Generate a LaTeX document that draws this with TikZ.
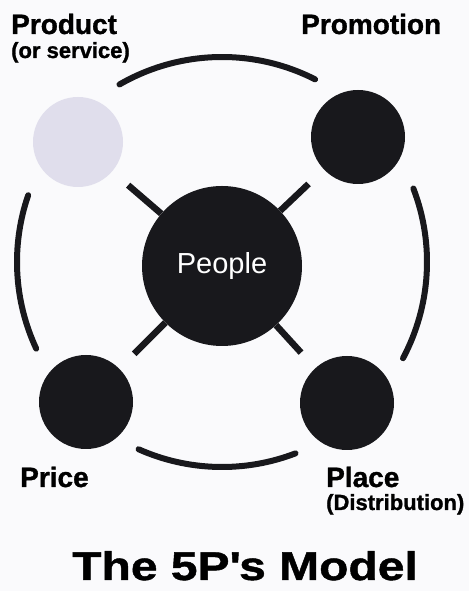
\documentclass[tikz,border=0pt]{standalone}
\usepackage{fontspec}
\setmainfont{Liberation Sans}
\newfontfamily\labelfont[FakeBold=1.2]{Liberation Sans}
\newfontfamily\titlefont[FakeStretch=1.2,FakeBold=1.2]{Liberation Sans}
\usepackage{tikz}
\usetikzlibrary{positioning,calc}
\definecolor{ink}{RGB}{24,24,28}
\definecolor{lilac}{RGB}{224,222,236}
\definecolor{paper}{RGB}{250,250,252}
\tikzset{
  ball/.default={94},
  ball/.style={circle, fill=ink, inner sep=0pt, minimum size=#1},
  spoke/.style={draw=ink, line width=6.5pt, shorten >=21pt},
  ring/.style={draw=ink, line width=6pt, line cap=round},
  plabel/.style={anchor=base west, inner sep=0pt, font=\labelfont\fontsize{28}{30}\selectfont\bfseries},
  psub/.style={anchor=base west, inner sep=0pt, font=\labelfont\fontsize{22}{24}\selectfont\bfseries}
}

\begin{document}
\begin{tikzpicture}[x=1pt,y=1pt]

  \fill[paper] (0,0) rectangle (469,591);
  \useasboundingbox (0,0) rectangle (469,591);

  \coordinate (hub) at (222,329);
  \foreach \a/\b in {63/120, 161/205, 246/291, -28/21}{
    \draw[ring] ([shift={(\a:205)}]hub) arc[start angle=\a, end angle=\b, radius=205];
  }

  \node[ball=160, text=white, font=\fontsize{29}{31}\selectfont] (people) at (222,325) {People};
  \node[ball=90, fill=lilac] (product) at (78,449) {};
  \node[ball] (promotion) at (358,454) {};
  \node[ball] (price) at (86,189) {};
  \node[ball] (place) at (347,188) {};

  \foreach \p in {product,promotion,price,place}{
    \draw[spoke] (people) -- (\p);
  }

  \node[plabel] (productlabel) at (11,557) {Product};
  \node[psub] (productsub) at ([yshift=-24pt]productlabel.base west) {(or service)};
  \node[plabel] (promotionlabel) at (301,557) {Promotion};
  \node[plabel] (pricelabel) at (20,104) {Price};
  \node[plabel] (placelabel) at (326,104) {Place};
  \node[psub] (placesub) at ([yshift=-23pt]placelabel.base west) {(Distribution)};

  \node[anchor=base, inner sep=0pt, font=\titlefont\fontsize{40}{44}\selectfont\bfseries] (title) at (245,11) {The 5P\textquotesingle{}s Model};

\end{tikzpicture}
\end{document}
